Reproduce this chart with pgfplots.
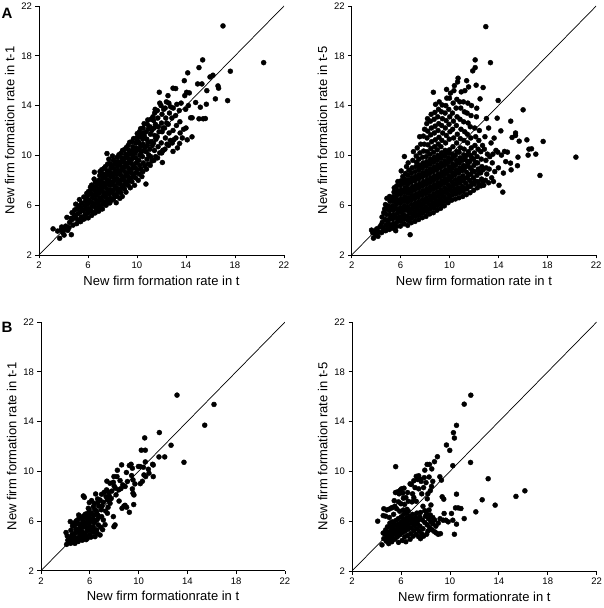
\documentclass[border=0pt]{standalone}
\usepackage{fontspec}
\setmainfont{Liberation Sans}
\usepackage{pgfplots}
\pgfplotsset{compat=1.18}
\pgfplotsset{panel/.style={scale only axis, anchor=south west, width=245pt, height=249pt,
  xmin=2, xmax=22, ymin=2, ymax=22, axis x line*=bottom, axis y line*=left,
  xtick={2,6,10,14,18,22}, ytick={2,6,10,14,18,22}, tick align=outside, major tick length=3.5pt,
  every tick/.style={black, line width=0.7pt}, axis line style={black, line width=0.8pt},
  tick label style={font=\fontsize{9.5}{11}\selectfont}, label style={font=\fontsize{13}{15}\selectfont},
  /pgf/number format/assume math mode=true},
  pts/.style={only marks, mark=*, mark size=2.5pt, black},
  diag/.style={black, line width=0.7pt, no marks}}
\begin{document}
\begin{tikzpicture}
\useasboundingbox (0,0) rectangle (604pt,608pt);
% ---------------- A left
\begin{axis}[panel, at={(39pt,353pt)}, xlabel={New firm formation rate in t}, ylabel={New firm formation rate in t-1}]
\addplot[diag] coordinates {(2,2) (22,22)};
\addplot[pts] coordinates {
(3.15,4.10)(3.52,3.92)(3.69,3.34)(3.80,4.02)(3.95,3.78)(4.08,4.05)(4.18,4.32)(4.35,3.98)(4.64,3.63)(4.28,5.02)(4.50,4.62)(4.45,4.20)(4.05,3.60)(3.85,4.25)
(4.78,4.40)(4.72,4.86)(4.88,5.22)(4.92,5.62)(4.62,4.95)(4.70,5.40)
(5.08,4.52)(5.02,4.96)(5.16,5.31)(5.12,5.72)(5.00,6.08)(5.22,4.80)(5.25,5.95)
(5.40,4.68)(5.46,5.05)(5.35,5.45)(5.42,5.82)(5.47,6.18)(5.30,6.45)(5.52,5.60)(5.55,4.85)
(5.70,4.90)(5.76,5.24)(5.64,5.58)(5.72,5.96)(5.78,6.30)(5.66,6.66)(5.84,5.70)(5.82,6.60)
(6.02,4.98)(5.96,5.36)(6.05,5.72)(5.98,6.06)(6.06,6.42)(5.95,6.76)(6.04,7.10)(6.12,5.55)(6.15,6.25)(5.90,6.95)(6.10,6.88)
(6.30,5.18)(6.25,5.56)(6.34,5.90)(6.28,6.24)(6.36,6.60)(6.26,6.94)(6.32,7.30)(6.30,7.62)(6.42,5.40)(6.45,6.10)(6.40,6.80)(6.20,7.45)
(6.58,5.38)(6.64,5.76)(6.55,6.08)(6.62,6.46)(6.68,6.80)(6.56,7.16)(6.62,7.50)(6.60,7.86)(6.72,5.60)(6.75,6.30)(6.70,7.00)(6.50,8.10)(6.52,8.65)(6.74,7.70)
(6.88,5.52)(6.92,5.90)(6.85,6.24)(6.95,6.60)(6.90,6.96)(6.86,7.30)(6.94,7.66)(6.90,8.00)(6.96,8.38)(6.82,6.12)(7.02,5.70)(7.05,6.45)(7.00,7.15)(7.04,7.85)(6.98,8.70)
(7.18,5.70)(7.22,6.06)(7.15,6.40)(7.25,6.76)(7.20,7.10)(7.16,7.46)(7.24,7.80)(7.20,8.16)(7.26,8.50)(7.32,6.25)(7.35,6.95)(7.30,7.62)(7.34,8.30)(7.12,8.85)(7.30,8.95)
(7.48,6.00)(7.52,6.30)(7.45,6.66)(7.55,7.00)(7.50,7.36)(7.46,7.70)(7.54,8.06)(7.50,8.40)(7.56,8.76)(7.55,10.15)(7.62,6.48)(7.65,7.20)(7.60,7.88)(7.64,8.58)(7.42,9.10)(7.60,9.30)
(7.78,6.18)(7.82,6.56)(7.75,6.90)(7.85,7.24)(7.80,7.60)(7.76,7.96)(7.84,8.30)(7.80,8.66)(7.86,9.00)(7.78,9.36)(7.92,6.40)(7.95,7.08)(7.90,7.78)(7.94,8.48)(7.92,9.18)(7.70,9.70)
(8.08,6.50)(8.12,6.86)(8.05,7.20)(8.15,7.56)(8.10,7.90)(8.06,8.26)(8.14,8.60)(8.10,8.96)(8.16,9.30)(8.08,9.62)(8.22,6.70)(8.25,7.38)(8.20,8.08)(8.24,8.78)(8.22,9.46)(8.00,9.95)(8.30,6.20)
(8.38,6.72)(8.42,7.06)(8.35,7.40)(8.45,7.76)(8.40,8.10)(8.36,8.46)(8.44,8.80)(8.40,9.16)(8.46,9.50)(8.38,9.84)(8.52,7.24)(8.55,7.92)(8.50,8.62)(8.54,9.32)(8.52,10.05)(8.60,6.55)
(8.68,7.00)(8.72,7.36)(8.65,7.70)(8.75,8.06)(8.70,8.40)(8.66,8.76)(8.74,9.10)(8.70,9.46)(8.76,9.80)(8.68,10.16)(8.82,7.54)(8.85,8.22)(8.80,8.92)(8.84,9.62)(8.82,10.40)(8.80,6.70)
(8.98,7.30)(9.02,7.66)(8.95,8.00)(9.05,8.34)(9.00,8.70)(8.96,9.06)(9.04,9.40)(9.00,9.76)(9.06,10.10)(8.98,10.46)(9.12,7.84)(9.15,8.52)(9.10,9.22)(9.14,9.92)(9.12,10.62)(9.10,7.05)
(9.28,7.60)(9.32,7.96)(9.25,8.30)(9.35,8.66)(9.30,9.00)(9.26,9.36)(9.34,9.70)(9.30,10.06)(9.36,10.40)(9.28,10.80)(9.42,8.14)(9.45,8.82)(9.40,9.52)(9.44,10.22)(9.40,11.05)(9.45,7.40)
(9.58,7.90)(9.62,8.26)(9.55,8.60)(9.65,8.96)(9.60,9.30)(9.56,9.66)(9.64,10.00)(9.60,10.36)(9.66,10.70)(9.58,11.10)(9.72,8.44)(9.75,9.12)(9.70,9.82)(9.74,10.52)(9.72,11.35)(9.80,7.60)
(9.88,8.20)(9.92,8.60)(9.85,9.00)(9.95,9.40)(9.90,9.80)(9.86,10.20)(9.94,10.60)(9.90,11.00)(9.96,11.40)(10.02,8.85)(10.05,9.60)(10.00,10.40)(10.04,11.20)(10.02,11.75)(10.10,8.00)
(10.18,8.50)(10.22,9.20)(10.15,9.60)(10.25,10.00)(10.20,10.50)(10.16,11.00)(10.24,11.50)(10.20,11.90)(10.32,8.90)(10.35,10.25)(10.30,10.75)(10.34,11.70)(10.30,12.15)(10.40,8.30)
(10.48,8.70)(10.52,9.40)(10.45,9.90)(10.55,10.40)(10.50,10.90)(10.46,11.30)(10.54,11.80)(10.50,12.20)(10.62,9.15)(10.65,10.65)(10.60,11.55)(10.58,12.55)(10.73,7.70)
(10.78,8.90)(10.82,9.70)(10.75,10.30)(10.85,10.80)(10.80,11.30)(10.76,11.90)(10.84,12.50)(10.92,9.30)(10.95,10.05)(10.90,11.05)(10.94,12.15)(10.88,12.85)
(11.08,9.20)(11.12,9.90)(11.05,10.50)(11.15,11.10)(11.10,11.70)(11.06,12.30)(11.14,12.90)(11.22,9.55)(11.25,10.80)(11.20,12.00)(11.30,13.10)
(11.38,9.60)(11.42,10.40)(11.35,11.00)(11.45,11.60)(11.40,12.20)(11.36,12.80)(11.44,13.40)(11.52,9.90)(11.55,11.30)(11.50,12.50)(11.48,13.70)
(11.68,9.80)(11.72,10.70)(11.65,11.50)(11.75,12.30)(11.70,13.00)(11.66,13.60)(11.82,15.07)(11.85,10.20)(11.80,11.90)(11.86,14.20)
(12.02,10.20)(11.98,11.00)(12.05,11.90)(12.00,12.60)(12.04,13.30)(11.96,14.00)(12.07,9.43)(12.12,10.40)(12.15,12.20)(12.18,13.70)
(12.28,10.50)(12.32,11.40)(12.25,12.20)(12.35,13.00)(12.30,13.80)(12.45,10.90)(12.42,12.60)(12.53,14.80)(12.40,14.30)
(12.58,10.80)(12.62,11.80)(12.55,12.50)(12.65,13.40)(12.60,14.20)(12.72,11.20)(12.75,13.90)
(12.88,11.00)(12.94,12.00)(12.85,13.00)(12.96,13.80)(12.94,15.40)(13.16,15.37)(12.99,11.25)(12.94,10.32)
(13.18,11.40)(13.22,12.40)(13.15,13.20)(13.25,14.10)(13.30,10.60)
(13.48,10.96)(13.50,12.70)(13.52,11.80)(13.45,13.60)(13.60,14.20)(13.86,16.00)(13.97,13.70)(13.80,12.10)(13.70,11.40)
(17.02,20.40)(20.34,17.45)(15.36,17.67)(15.06,17.05)(17.62,16.76)(16.61,15.58)(16.66,15.40)(17.40,14.40)(16.40,14.54)(15.96,16.30)(16.20,16.44)(14.14,16.63)(14.95,15.74)(15.30,15.74)(15.70,15.20)(14.05,15.07)(14.27,15.02)(15.66,14.11)(15.17,13.87)(14.79,14.25)(15.40,12.94)(15.58,12.96)(15.06,12.94)(14.38,13.02)(14.50,13.02)(14.49,11.49)(14.10,11.25)(12.12,10.40)(14.00,12.20)(14.20,14.00)(13.90,14.80)
};
\end{axis}
% ---------------- A right
\begin{axis}[panel, at={(351.7pt,353pt)}, width=244.5pt, xlabel={New firm formation rate in t}, ylabel={New firm formation rate in t-5}]
\addplot[diag] coordinates {(2,2) (22,22)};
\addplot[pts] coordinates {
(3.62,4.00)(3.78,3.35)(3.90,3.92)(3.95,3.62)(3.72,3.78)
(4.05,4.10)(4.20,3.85)(4.15,3.50)(4.30,4.25)(4.02,3.95)
(4.45,3.80)(4.55,4.20)(4.50,4.62)(4.48,5.05)(4.60,3.95)(4.40,4.40)(4.62,5.40)(4.70,5.70)
(4.78,3.95)(4.82,4.40)(4.75,4.85)(4.85,5.25)(4.80,5.65)(4.76,6.05)(4.88,6.55)(4.92,4.10)(4.95,4.65)(4.90,5.95)
(5.08,4.05)(5.12,4.45)(5.05,4.85)(5.15,5.20)(5.10,5.55)(5.06,5.90)(5.14,6.30)(5.10,6.70)(5.20,4.25)(5.24,5.00)(5.22,5.75)(5.18,6.55)
(5.38,4.15)(5.42,4.52)(5.35,4.88)(5.45,5.24)(5.40,5.60)(5.36,5.96)(5.44,6.32)(5.40,6.68)(5.46,7.05)(5.52,4.35)(5.55,5.05)(5.50,5.80)(5.54,6.50)(5.48,7.40)(5.60,3.95)
(5.68,4.30)(5.72,4.66)(5.65,5.02)(5.75,5.38)(5.70,5.74)(5.66,6.10)(5.74,6.46)(5.70,6.82)(5.76,7.18)(5.68,7.55)(5.82,4.85)(5.85,5.56)(5.80,6.28)(5.84,7.00)(5.78,7.90)
(5.98,4.32)(6.02,4.70)(5.95,5.06)(6.05,5.42)(6.00,5.78)(5.96,6.14)(6.04,6.50)(6.00,6.86)(6.06,7.22)(5.98,7.58)(6.02,7.95)(6.05,8.75)(6.12,4.95)(6.15,5.62)(6.10,6.32)(6.14,7.05)(6.12,7.75)(6.18,8.30)
(6.28,4.50)(6.32,4.88)(6.25,5.24)(6.35,5.60)(6.30,5.96)(6.26,6.32)(6.34,6.68)(6.30,7.04)(6.36,7.40)(6.28,7.76)(6.32,8.12)(6.31,9.91)(6.42,5.10)(6.45,5.80)(6.40,6.50)(6.44,7.22)(6.42,7.95)(6.40,8.55)(6.48,9.10)
(6.58,4.38)(6.62,4.76)(6.55,5.14)(6.65,5.50)(6.60,5.86)(6.56,6.22)(6.64,6.58)(6.60,6.94)(6.66,7.30)(6.58,7.66)(6.62,8.02)(6.60,8.40)(6.72,4.95)(6.75,5.68)(6.70,6.40)(6.74,7.12)(6.72,7.85)(6.68,8.80)(6.62,9.40)(6.78,3.63)
(6.88,4.60)(6.92,4.98)(6.85,5.34)(6.95,5.70)(6.90,6.06)(6.86,6.42)(6.94,6.78)(6.90,7.14)(6.96,7.50)(6.88,7.86)(6.92,8.22)(6.90,8.60)(6.94,9.00)(7.02,5.15)(7.05,5.88)(7.00,6.60)(7.04,7.32)(7.02,8.05)(7.00,9.60)(7.05,10.30)
(7.18,4.70)(7.22,5.08)(7.15,5.44)(7.25,5.80)(7.20,6.16)(7.16,6.52)(7.24,6.88)(7.20,7.24)(7.26,7.60)(7.18,7.96)(7.22,8.32)(7.20,8.70)(7.24,9.10)(7.32,5.25)(7.35,5.98)(7.30,6.70)(7.34,7.42)(7.32,8.15)(7.30,9.45)(7.28,9.95)(7.36,10.60)
(7.48,4.85)(7.52,5.22)(7.45,5.58)(7.55,5.94)(7.50,6.30)(7.46,6.66)(7.54,7.02)(7.50,7.38)(7.56,7.74)(7.48,8.10)(7.52,8.46)(7.50,8.84)(7.54,9.22)(7.50,9.70)(7.62,5.40)(7.65,6.12)(7.60,6.84)(7.64,7.56)(7.62,8.28)(7.60,9.00)(7.58,10.20)(7.64,10.90)(7.56,11.50)
(7.78,5.00)(7.82,5.38)(7.75,5.74)(7.85,6.10)(7.80,6.46)(7.76,6.82)(7.84,7.18)(7.80,7.54)(7.86,7.90)(7.78,8.26)(7.82,8.62)(7.80,9.00)(7.84,9.40)(7.80,9.85)(7.92,5.55)(7.95,6.28)(7.90,7.00)(7.94,7.72)(7.92,8.44)(7.90,9.20)(7.88,10.35)(7.94,10.90)(7.86,11.55)(7.96,12.10)
(8.08,5.10)(8.12,5.50)(8.05,5.86)(8.15,6.22)(8.10,6.58)(8.06,6.94)(8.14,7.30)(8.10,7.66)(8.16,8.02)(8.08,8.38)(8.12,8.74)(8.10,9.12)(8.14,9.50)(8.10,9.90)(8.22,5.70)(8.25,6.40)(8.20,7.12)(8.24,7.84)(8.22,8.56)(8.20,9.30)(8.18,10.30)(8.24,10.85)(8.16,11.40)(8.22,11.95)(8.14,12.55)(8.20,12.95)
(8.38,5.30)(8.42,5.68)(8.35,6.04)(8.45,6.40)(8.40,6.76)(8.36,7.12)(8.44,7.48)(8.40,7.84)(8.46,8.20)(8.38,8.56)(8.42,8.92)(8.40,9.30)(8.44,9.70)(8.40,10.10)(8.52,5.85)(8.55,6.58)(8.50,7.30)(8.54,8.02)(8.52,8.74)(8.50,9.50)(8.48,10.55)(8.54,11.10)(8.46,11.65)(8.52,12.20)(8.44,12.75)(8.50,13.30)
(8.68,5.40)(8.72,5.80)(8.65,6.18)(8.75,6.54)(8.70,6.90)(8.66,7.26)(8.74,7.62)(8.70,7.98)(8.76,8.34)(8.68,8.70)(8.72,9.06)(8.70,9.44)(8.74,9.84)(8.70,10.25)(8.82,6.00)(8.85,6.72)(8.80,7.44)(8.84,8.16)(8.82,8.88)(8.80,9.64)(8.78,10.70)(8.84,11.25)(8.76,11.80)(8.82,12.35)(8.74,12.90)(8.80,13.45)(8.68,15.07)(8.86,14.10)
(8.98,5.60)(9.02,5.98)(8.95,6.34)(9.05,6.70)(9.00,7.06)(8.96,7.42)(9.04,7.78)(9.00,8.14)(9.06,8.50)(8.98,8.86)(9.02,9.22)(9.00,9.60)(9.04,10.00)(9.00,10.45)(9.12,6.15)(9.15,6.88)(9.10,7.60)(9.14,8.32)(9.12,9.04)(9.10,9.80)(9.08,10.90)(9.14,11.45)(9.06,12.00)(9.12,12.55)(9.04,13.10)(9.10,13.70)(9.16,14.30)
(9.28,5.75)(9.32,6.12)(9.25,6.50)(9.35,6.86)(9.30,7.22)(9.26,7.58)(9.34,7.94)(9.30,8.30)(9.36,8.66)(9.28,9.02)(9.32,9.38)(9.30,9.76)(9.34,10.20)(9.30,10.70)(9.42,6.30)(9.45,7.04)(9.40,7.76)(9.44,8.48)(9.42,9.20)(9.40,9.96)(9.38,11.20)(9.44,11.80)(9.36,12.40)(9.42,12.95)(9.34,13.50)(9.40,14.05)
(9.58,5.95)(9.62,6.32)(9.55,6.68)(9.65,7.04)(9.60,7.40)(9.56,7.76)(9.64,8.12)(9.60,8.48)(9.66,8.84)(9.58,9.20)(9.62,9.56)(9.60,9.95)(9.64,10.40)(9.72,6.50)(9.75,7.22)(9.70,7.94)(9.74,8.66)(9.72,9.38)(9.70,10.15)(9.68,11.00)(9.74,11.60)(9.66,12.20)(9.72,12.80)(9.64,13.40)(9.70,14.00)(9.76,15.30)(9.78,14.60)
(9.88,6.20)(9.92,6.56)(9.85,6.92)(9.95,7.28)(9.90,7.64)(9.86,8.00)(9.94,8.36)(9.90,8.72)(9.96,9.08)(9.88,9.44)(9.92,9.80)(9.90,10.20)(10.02,6.75)(10.05,7.46)(10.00,8.18)(10.04,8.90)(10.02,9.62)(10.00,10.45)(9.98,11.30)(10.04,11.90)(9.96,12.50)(10.02,13.10)(9.94,13.70)(10.00,14.60)(10.08,15.00)
(10.18,6.40)(10.22,6.80)(10.15,7.16)(10.25,7.52)(10.20,7.88)(10.16,8.24)(10.24,8.60)(10.20,8.96)(10.26,9.32)(10.18,9.70)(10.22,10.10)(10.32,7.00)(10.35,7.72)(10.30,8.44)(10.34,9.16)(10.32,9.90)(10.28,10.70)(10.34,11.40)(10.26,12.10)(10.32,12.75)(10.24,13.40)(10.30,14.20)(10.36,15.20)(10.40,15.60)
(10.48,6.50)(10.52,6.90)(10.45,7.30)(10.55,7.68)(10.50,8.06)(10.46,8.44)(10.54,8.82)(10.50,9.20)(10.56,9.60)(10.48,10.00)(10.62,7.10)(10.65,7.86)(10.60,8.62)(10.64,9.40)(10.60,10.30)(10.58,11.00)(10.64,11.70)(10.56,12.40)(10.62,13.10)(10.54,13.80)(10.60,14.50)(10.66,15.90)(10.70,16.20)
(10.78,6.60)(10.82,7.00)(10.75,7.40)(10.85,7.80)(10.80,8.20)(10.76,8.60)(10.84,9.00)(10.80,9.40)(10.86,9.80)(10.78,10.25)(10.92,7.25)(10.95,8.00)(10.90,8.80)(10.94,9.60)(10.90,10.60)(10.88,11.35)(10.94,12.10)(10.86,12.90)(10.92,13.80)(10.84,14.30)(10.96,15.10)
(11.08,6.70)(11.12,7.10)(11.05,7.52)(11.15,7.94)(11.10,8.36)(11.06,8.78)(11.14,9.20)(11.10,9.62)(11.16,10.05)(11.22,7.35)(11.25,8.15)(11.20,8.95)(11.24,9.80)(11.20,10.50)(11.18,11.20)(11.24,11.90)(11.16,12.70)(11.22,13.50)(11.14,14.30)(11.26,15.20)
(11.38,6.85)(11.42,7.30)(11.35,7.75)(11.45,8.20)(11.40,8.65)(11.36,9.10)(11.44,9.55)(11.40,10.00)(11.52,7.50)(11.55,8.40)(11.50,9.30)(11.54,10.30)(11.48,11.00)(11.46,11.70)(11.52,12.60)(11.44,13.40)(11.50,14.20)(11.40,16.00)(11.56,15.50)
(11.68,7.00)(11.72,7.50)(11.65,8.00)(11.75,8.50)(11.70,9.00)(11.66,9.50)(11.74,10.00)(11.80,7.80)(11.85,8.80)(11.80,9.80)(11.78,10.60)(11.74,11.40)(11.70,12.30)(11.76,13.20)(11.90,16.79)(11.80,14.00)
(11.98,7.20)(12.02,7.70)(11.95,8.20)(12.05,8.70)(12.00,9.20)(11.96,9.70)(12.04,10.20)(12.10,7.95)(12.12,9.45)(12.08,10.80)(12.10,17.67)(12.10,17.05)(12.18,15.64)(12.23,13.79)(12.20,13.10)(12.06,12.20)(12.14,11.50)
(12.28,7.40)(12.32,7.90)(12.25,8.40)(12.35,8.90)(12.30,9.40)(12.26,9.90)(12.34,10.50)(12.42,7.65)(12.45,8.65)(12.40,11.20)(12.50,14.54)(12.75,15.45)(12.44,12.00)
(12.58,7.55)(12.62,8.10)(12.55,8.60)(12.65,9.10)(12.60,9.70)(12.56,10.30)(12.72,7.90)(12.75,8.85)(12.70,10.80)(12.80,7.60)(12.97,20.34)(13.02,12.96)(12.90,11.50)
(12.95,8.00)(13.05,8.50)(13.00,9.00)(12.98,9.60)(13.10,10.10)(13.20,7.80)(13.25,8.90)(13.35,17.45)(13.30,9.90)(13.40,11.00)(13.45,8.20)(13.50,9.40)(13.60,7.90)(13.65,11.39)(13.70,8.70)(13.80,10.40)(13.90,12.99)(13.98,14.41)(13.95,10.26)(14.00,9.00)(14.05,7.60)(14.20,11.97)(14.25,10.02)(14.36,7.05)(14.41,8.58)(14.50,10.32)(14.74,10.26)(14.60,9.50)(14.99,9.38)(15.04,8.84)(15.01,12.75)(15.12,11.44)(15.40,11.80)(15.40,11.60)(15.60,9.86)(15.56,9.17)(15.70,11.14)(16.02,13.66)(16.33,11.25)(16.43,10.02)(16.50,10.50)(16.71,10.53)(17.06,10.10)(17.40,8.39)(17.66,11.12)(20.34,9.86)(13.20,12.20)(12.85,10.50)(13.55,10.10)
};
\end{axis}
% ---------------- B left
\begin{axis}[panel, at={(41pt,37.3pt)}, width=244pt, height=248.7pt, xlabel={New firm formationrate in t}, ylabel={New firm formation rate in t-1}]
\addplot[diag] coordinates {(2,2) (22,22)};
\addplot[pts] coordinates {
(4.10,4.12)(4.20,4.45)(4.15,4.80)(4.05,5.07)(4.25,4.25)(4.30,4.65)
(4.43,4.20)(4.50,4.55)(4.55,4.90)(4.45,5.25)(4.60,4.35)(4.58,5.60)(4.40,5.95)(4.62,4.75)
(4.70,4.47)(4.78,4.20)(4.82,4.65)(4.75,5.00)(4.85,5.35)(4.80,5.70)(4.90,4.40)(4.92,5.28)(4.88,6.00)(4.65,5.81)
(5.05,4.35)(5.12,4.70)(5.08,5.05)(5.15,5.40)(5.10,5.75)(5.02,6.10)(5.20,4.55)(5.22,4.95)(5.25,5.60)(5.18,6.30)(5.09,6.48)
(5.38,4.45)(5.42,4.80)(5.35,5.15)(5.45,5.50)(5.40,5.85)(5.36,6.20)(5.50,4.60)(5.55,5.00)(5.52,5.70)(5.48,6.40)(5.33,6.21)(5.47,5.95)(5.47,8.01)(5.55,7.90)
(5.66,4.82)(5.70,4.50)(5.75,5.15)(5.68,5.50)(5.78,5.85)(5.72,6.20)(5.74,6.35)(5.80,4.60)(5.84,5.35)(5.82,6.60)(5.88,7.02)(5.64,6.55)(5.85,5.95)
(5.96,7.48)(6.02,6.21)(6.00,4.90)(6.05,5.25)(5.98,5.60)(6.08,5.95)(6.02,6.55)(6.10,4.70)(6.15,6.62)(6.15,7.64)(6.12,5.45)(6.18,6.10)(5.95,6.90)
(6.29,5.09)(6.29,7.15)(6.37,6.48)(6.43,4.74)(6.30,5.50)(6.35,5.85)(6.25,6.20)(6.40,6.90)(6.28,5.30)(6.45,6.00)(6.48,8.17)(6.38,7.40)
(6.56,5.28)(6.64,7.77)(6.70,5.68)(6.60,6.10)(6.65,6.50)(6.55,6.80)(6.72,7.20)(6.62,5.00)(6.75,6.30)(6.68,7.50)
(6.84,4.87)(6.84,7.69)(6.97,8.15)(6.97,6.35)(7.11,6.08)(7.11,7.50)(6.90,5.50)(6.95,6.90)(7.05,5.30)(7.00,7.20)
(7.19,8.31)(7.33,7.96)(7.38,8.50)(7.44,7.69)(7.44,6.62)(7.55,8.31)(7.66,7.42)(7.66,9.03)(7.30,6.80)(7.50,7.10)(7.25,5.70)(7.60,8.00)(7.75,7.80)(7.80,8.40)(7.40,9.20)
(7.93,6.35)(8.07,5.68)(7.98,5.54)(7.93,9.11)(7.98,9.57)(8.23,9.57)(8.48,9.25)(8.70,8.90)(8.37,8.50)(8.10,8.63)(8.15,8.10)(8.26,10.08)(8.61,10.51)(9.24,10.46)(9.38,10.56)(9.49,10.24)(9.98,10.38)(10.11,10.38)(10.39,10.32)(10.55,10.75)(11.15,10.56)(10.80,10.16)(10.85,9.84)(11.20,9.57)(10.44,9.70)(10.58,9.57)(10.31,9.19)(10.14,9.00)(9.43,9.65)(9.54,9.30)(9.08,9.17)(8.89,8.77)(9.49,8.58)(9.70,8.98)(9.62,8.09)(9.54,8.23)(9.24,6.70)(8.89,7.26)(9.02,7.10)(8.64,7.02)(8.80,7.20)(9.60,7.32)(13.15,16.12)(16.18,15.37)(15.42,13.70)(13.72,10.72)(11.70,13.11)(10.50,12.68)(12.66,12.09)(10.22,11.69)(10.55,11.69)(11.67,11.15)(12.14,11.15)(11.20,10.50)(8.55,8.60)(8.00,8.80)(9.00,9.90)(8.40,7.60)
};
\end{axis}
% ---------------- B right
\begin{axis}[panel, at={(352pt,37pt)}, width=244.7pt, xlabel={New firm formationrate in t}, ylabel={New firm formation rate in t-5}]
\addplot[diag] coordinates {(2,2) (22,22)};
\addplot[pts] coordinates {
(11.71,16.12)(11.17,15.40)(10.54,13.70)(10.29,13.11)(10.37,12.68)(9.72,12.12)(9.99,11.69)(10.24,10.46)(11.69,10.72)(8.98,11.18)(8.14,10.56)(8.33,10.56)(8.74,10.78)(7.95,10.10)(8.52,10.20)(5.57,10.38)(13.13,9.41)(9.18,9.57)(9.31,9.30)(16.13,8.44)(15.40,7.99)(12.64,7.72)(13.70,7.29)(12.12,6.75)(11.17,6.21)(10.37,4.95)(10.54,5.76)(10.54,8.17)(10.46,7.07)(10.68,7.07)(10.90,7.02)(9.37,7.96)(9.50,7.77)(9.53,6.62)(9.45,6.08)(9.67,6.08)(9.86,5.95)(10.13,6.62)(10.24,6.08)(9.23,5.00)(8.90,5.05)
(7.54,6.35)(7.75,6.10)(7.95,5.90)(8.15,5.70)(8.35,5.50)(8.55,5.30)(8.75,5.15)(9.05,4.95)
(4.10,6.00)(4.55,6.45)(4.60,7.00)(4.75,6.40)(4.85,6.90)(5.00,6.95)(5.05,6.30)(5.20,7.05)(5.30,7.10)(5.45,7.65)(5.50,7.20)(5.55,8.30)(5.65,7.00)(5.70,8.35)(5.80,7.55)(5.85,8.20)(5.95,8.50)(6.00,7.40)(6.05,8.60)(6.15,8.25)(6.20,7.85)(6.25,8.65)(6.30,7.35)(6.40,7.90)(6.55,8.30)(6.60,7.60)(6.75,9.00)(6.85,8.95)(6.95,8.20)(7.05,9.25)(7.15,8.70)(7.25,9.60)(7.35,9.35)(7.45,9.65)(7.55,9.40)(7.65,9.20)(7.45,8.60)(7.25,7.60)(7.05,7.90)(6.90,7.55)(7.70,8.20)(7.85,8.70)(7.90,9.50)(8.05,9.10)(8.20,8.20)(8.30,9.55)(8.45,7.30)(8.50,8.80)(8.60,9.20)(8.15,7.80)(7.80,7.20)(8.40,8.45)(6.50,6.95)(5.90,6.80)(5.40,6.55)
(4.45,4.10)(4.60,4.60)(4.70,4.95)(4.80,4.40)(4.90,4.75)(4.95,5.10)(4.75,5.30)(5.00,4.20)(5.05,4.55)(5.10,4.90)(5.15,5.25)(5.20,5.55)(5.10,5.85)(5.25,4.35)(5.30,4.70)(5.35,5.05)(5.40,5.40)(5.45,5.75)(5.50,4.55)(5.55,4.95)(5.60,5.30)(5.62,5.65)(5.58,6.05)(5.70,4.75)(5.75,5.10)(5.80,5.45)(5.85,5.80)(5.78,6.20)(5.90,4.90)(5.95,5.25)(6.00,5.60)(6.05,5.95)(6.02,6.35)(6.10,4.45)(6.12,5.10)(6.18,5.45)(6.20,5.80)(6.25,6.15)(6.22,6.55)(6.30,4.75)(6.35,5.20)(6.40,5.55)(6.42,5.90)(6.48,6.25)(6.45,6.65)(6.55,4.85)(6.58,5.35)(6.62,5.70)(6.65,6.05)(6.70,6.40)(6.60,6.80)(6.75,4.55)(6.80,5.00)(6.85,5.45)(6.88,5.85)(6.90,6.20)(6.95,6.55)(7.00,4.80)(7.05,5.25)(7.10,5.65)(7.12,6.00)(7.20,6.30)(7.25,4.95)(7.30,5.40)(7.35,5.80)(7.40,6.10)(7.45,4.75)(7.50,5.20)(7.55,5.60)(7.70,5.00)(7.80,5.40)(7.85,4.80)(8.00,6.40)(7.60,6.70)(8.10,6.60)(8.25,6.20)(8.40,6.50)(8.60,6.30)(8.30,6.90)(7.95,6.85)(8.75,6.10)(8.60,5.80)(8.45,5.95)(8.85,5.60)(9.05,5.85)(9.20,6.20)(7.30,6.65)(6.20,6.90)(5.30,5.95)(4.90,5.55)(4.55,5.05)(8.20,5.20)(8.10,4.95)(7.60,4.60)(6.40,4.35)(5.80,4.30)
};
\end{axis}
\node[anchor=north west, inner sep=0pt, font=\bfseries\fontsize{15}{17}\selectfont] at (1.5pt,600pt) {A};
\node[anchor=north west, inner sep=0pt, font=\bfseries\fontsize{15}{17}\selectfont] at (1.5pt,286pt) {B};
\end{tikzpicture}
\end{document}
